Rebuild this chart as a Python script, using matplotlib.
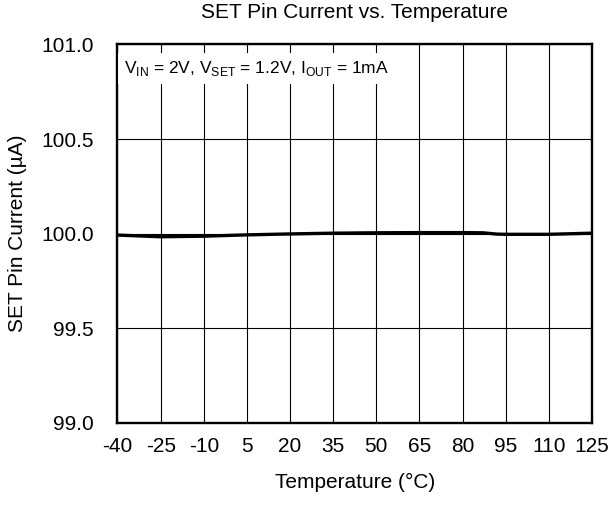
import matplotlib
matplotlib.use('Agg')
import matplotlib.pyplot as plt

plt.rcParams['font.family'] = ['Liberation Sans', 'DejaVu Sans']
plt.rcParams['mathtext.fontset'] = 'custom'
plt.rcParams['mathtext.rm'] = 'Liberation Sans'
plt.rcParams['axes.unicode_minus'] = False

# SET pin current over temperature
temps = [-40, -25, -10, 5, 20, 35, 50, 65, 80, 87, 92, 95, 110, 125]
iset = [99.993, 99.984, 99.987, 99.994, 99.999, 100.003, 100.005, 100.006,
        100.006, 100.005, 99.998, 99.997, 99.997, 100.003]

xticks = [-40, -25, -10, 5, 20, 35, 50, 65, 80, 95, 110, 125]
yticks = [99.0, 99.5, 100.0, 100.5, 101.0]

fig = plt.figure(figsize=(6.11, 5.05), dpi=100)
ax = fig.add_axes([0.1923, 0.1624, 0.7766, 0.7495])

ax.plot(temps, iset, color='black', lw=2.4, zorder=3)

ax.set_xlim(-40, 125)
ax.set_ylim(99.0, 101.0)
ax.set_xticks(xticks)
ax.set_yticks(yticks)
ax.set_yticklabels(['%.1f' % v for v in yticks])
ax.grid(True, color='black', lw=0.8)
ax.tick_params(length=0, labelsize=15)
ax.tick_params(axis='x', pad=10)
ax.tick_params(axis='y', pad=17)
for s in ax.spines.values():
    s.set_linewidth(1.7)

ax.set_title('SET Pin Current vs. Temperature', fontsize=15, pad=19)
ax.set_xlabel('Temperature (\u00b0C)', fontsize=15, labelpad=12)
ax.set_ylabel('SET Pin Current (\u00b5A)', fontsize=15, labelpad=10)

ax.text(0.0137, 0.9247, r'V$_{\mathrm{IN}}$ = 2V, V$_{\mathrm{SET}}$ = 1.2V, I$_{\mathrm{OUT}}$ = 1mA',
        transform=ax.transAxes, fontsize=12.5, va='baseline', ha='left', zorder=4,
        bbox=dict(facecolor='white', edgecolor='none', pad=4))

fig.savefig('out.png', dpi=100)
